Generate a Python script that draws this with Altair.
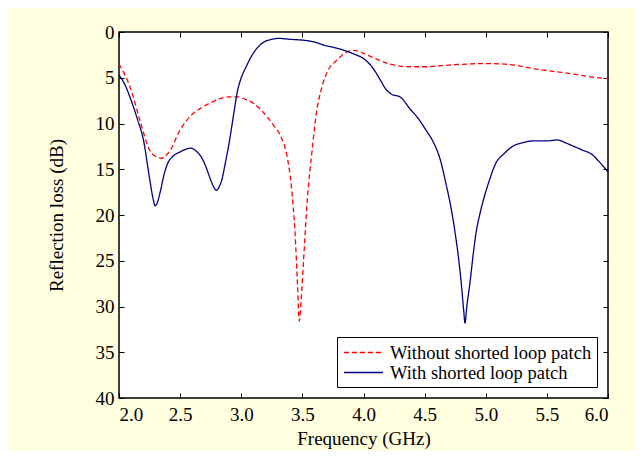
import altair as alt
import pandas as pd

# Without shorted loop patch (red dashed)
red_x = [2.00, 2.09, 2.17, 2.25, 2.30, 2.35, 2.42, 2.50, 2.58, 2.66, 2.74, 2.82, 2.90, 2.97,
         3.04, 3.10, 3.16, 3.21, 3.27, 3.33, 3.375, 3.41, 3.44, 3.46, 3.475, 3.49, 3.51, 3.54,
         3.58, 3.61, 3.66, 3.71, 3.78, 3.85, 3.91, 3.96, 4.01, 4.08, 4.15, 4.23, 4.31, 4.40,
         4.51, 4.62, 4.72, 4.85, 5.02, 5.15, 5.27, 5.39, 5.55, 5.72, 5.86, 6.00]
red_y = [3.5, 6.0, 9.6, 12.9, 13.6, 13.8, 12.9, 10.7, 9.25, 8.4, 7.8, 7.3, 7.1, 7.1,
         7.4, 7.8, 8.5, 9.25, 10.3, 11.6, 13.6, 16.9, 22.0, 27.5, 31.6, 29.3, 24.9, 18.4,
         12.9, 9.3, 6.0, 4.2, 3.1, 2.3, 2.0, 2.1, 2.4, 2.8, 3.2, 3.55, 3.75, 3.8,
         3.8, 3.7, 3.6, 3.5, 3.45, 3.5, 3.7, 4.0, 4.3, 4.6, 4.9, 5.1]

# With shorted loop patch (blue solid)
blue_x = [2.00, 2.05, 2.10, 2.15, 2.20, 2.25, 2.28, 2.295, 2.315, 2.335, 2.37, 2.40, 2.44, 2.50,
          2.55, 2.59, 2.63, 2.67, 2.71, 2.74, 2.77, 2.795, 2.82, 2.84, 2.87, 2.905, 2.94, 2.97,
          3.00, 3.04, 3.09, 3.14, 3.20, 3.25, 3.31, 3.40, 3.51, 3.60, 3.68, 3.76, 3.84, 3.92,
          4.00, 4.05, 4.10, 4.14, 4.18, 4.23, 4.30, 4.38, 4.45, 4.51, 4.57, 4.62, 4.68, 4.72,
          4.75, 4.78, 4.80, 4.82, 4.83, 4.845, 4.87, 4.90, 4.92, 4.95, 4.98, 5.03, 5.08, 5.15,
          5.22, 5.30, 5.39, 5.50, 5.59, 5.65, 5.72, 5.79, 5.86, 5.93, 6.00]
blue_y = [4.7, 5.8, 7.5, 9.5, 11.8, 16.0, 18.3, 19.0, 18.6, 17.6, 15.5, 14.3, 13.6, 13.1,
          12.8, 12.7, 13.0, 13.6, 14.7, 15.8, 16.8, 17.3, 16.9, 16.2, 14.3, 11.8, 8.8, 6.4,
          5.0, 3.8, 2.5, 1.6, 1.0, 0.8, 0.7, 0.8, 0.9, 1.1, 1.45, 1.7, 2.0, 2.4,
          2.9, 3.5, 4.4, 5.3, 6.2, 6.8, 7.1, 8.4, 9.5, 10.7, 12.0, 13.6, 16.9, 19.5,
          22.0, 25.0, 27.5, 30.5, 31.8, 30.0, 27.5, 24.0, 22.0, 20.0, 18.4, 16.2, 14.4, 13.3,
          12.5, 12.1, 11.9, 11.9, 11.8, 12.1, 12.5, 12.9, 13.3, 14.2, 15.3]

series_names = ["Without shorted loop patch", "With shorted loop patch"]
series_colors = ["#ff0000", "#000080"]
x_ticks = [2.0, 2.5, 3.0, 3.5, 4.0, 4.5, 5.0, 5.5, 6.0]
y_ticks = [0, 5, 10, 15, 20, 25, 30, 35, 40]

df = pd.concat([
    pd.DataFrame({"f": red_x, "rl": red_y, "series": series_names[0], "order": range(len(red_x))}),
    pd.DataFrame({"f": blue_x, "rl": blue_y, "series": series_names[1], "order": range(len(blue_x))}),
])

FONT = "Liberation Serif, Times New Roman, serif"
FS = 19
xscale = alt.Scale(domain=[2.0, 6.0], nice=False, zero=False)
yscale = alt.Scale(domain=[0, 40], reverse=True, nice=False, zero=True)

common_axis = dict(domain=False, ticks=True, tickSize=5, offset=-5, tickColor="black",
                   tickWidth=1, grid=False, labelFont=FONT, labelFontSize=FS,
                   labelColor="black", titleFont=FONT, titleFontSize=FS,
                   titleFontWeight="normal", titleColor="black")

legend_kw = dict(title=None, orient="none", legendX=218, legendY=305,
                 symbolType="M-2,0H2", symbolSize=380, symbolOffset=11,
                 symbolStrokeWidth=1.3, labelFont=FONT,
                 labelFontSize=18.5, labelColor="black",
                 labelOffset=16, padding=5, rowPadding=0,
                 strokeColor="black", fillColor="white", labelLimit=400)

lines = alt.Chart(df).mark_line(strokeWidth=1.3, interpolate="monotone").encode(
    x=alt.X("f:Q", scale=xscale,
            axis=alt.Axis(orient="bottom", values=x_ticks, format=".1f",
                          title="Frequency (GHz)", labelPadding=7, titlePadding=5,
                          **common_axis)),
    y=alt.Y("rl:Q", scale=yscale,
            axis=alt.Axis(orient="left", values=y_ticks, title="Reflection loss (dB)",
                          labelPadding=5, titlePadding=29, **common_axis)),
    color=alt.Color("series:N", scale=alt.Scale(domain=series_names, range=series_colors),
                    legend=alt.Legend(**legend_kw)),
    strokeDash=alt.StrokeDash("series:N",
                              scale=alt.Scale(domain=series_names, range=[[5, 3], [1, 0]]),
                              legend=alt.Legend(**legend_kw)),
    order="order:Q",
    detail="series:N",
)

mirror_axis = dict(common_axis)
mirror_axis.update(labels=False, title=None)
mirror = alt.Chart(df).mark_line(opacity=0).encode(
    x=alt.X("f:Q", scale=xscale, axis=alt.Axis(orient="top", values=x_ticks, **mirror_axis)),
    y=alt.Y("rl:Q", scale=yscale, axis=alt.Axis(orient="right", values=y_ticks, **mirror_axis)),
    detail="series:N",
)

chart = alt.layer(lines, mirror).properties(
    width=489, height=366,
    autosize=alt.AutoSizeParams(type="none"),
    padding={"left": 111, "top": 24, "right": 27, "bottom": 53},
    background="#ffffe0",
).configure_view(stroke="black", strokeWidth=1.5, fill="white")

chart.save("out.html", embed_options={"renderer": "svg", "actions": False})
